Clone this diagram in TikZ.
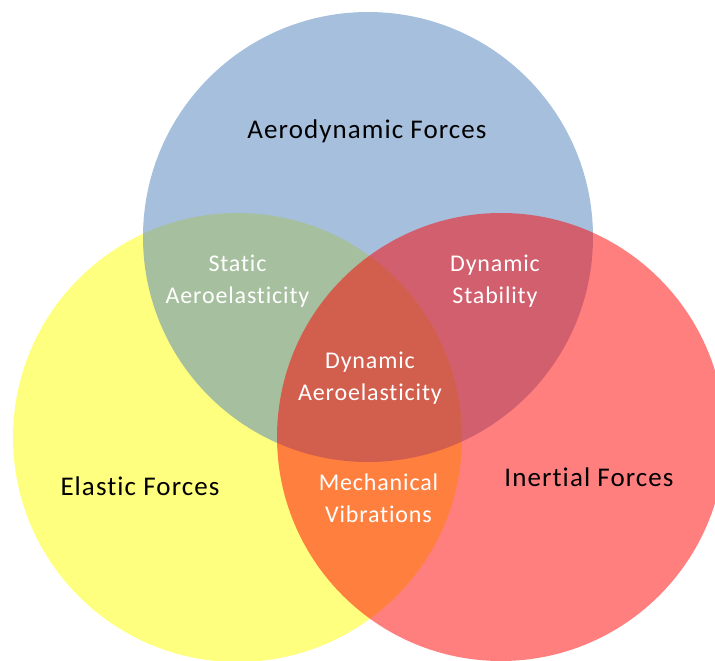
\documentclass[tikz,border=0pt]{standalone}
\usepackage{fontspec}
\setmainfont[Ligatures=NoCommon]{Carlito}
\newfontfamily\venfont[Ligatures=NoCommon, LetterSpace=4]{Carlito}
\newfontfamily\venfontsub[Ligatures=NoCommon, LetterSpace=3.5]{Carlito}
\definecolor{aeroblue}{HTML}{4F81BD}
\definecolor{elasyellow}{HTML}{FFFF00}
\definecolor{inertred}{HTML}{FF0000}
\tikzset{
  setcircle/.style={fill opacity=0.5, draw=none},
  mainlabel/.style={anchor=base, inner sep=0pt, text=black, font=\venfont\fontsize{27}{31}\selectfont},
  sublabel/.style={anchor=base, inner sep=0pt, text=white, font=\venfontsub\fontsize{24}{32}\selectfont},
}
\begin{document}
\begin{tikzpicture}[x=1pt, y=-1pt]
\useasboundingbox (0,0) rectangle (715,661);
\clip (0,0) rectangle (715,661);
\fill[white] (0,0) rectangle (715,661);
% circles
\fill[setcircle, elasyellow] (237.5,437.5) circle (224.5);
\fill[setcircle, aeroblue] (368,237) circle (225);
\fill[setcircle, inertred] (501,437) circle (224);
% main labels
\node[mainlabel] (aero) at (367,138) {Aerodynamic Forces};
\node[mainlabel] (elastic) at (140,495) {Elastic Forces};
\node[mainlabel] (inertial) at (589,486) {Inertial Forces};
% intersection labels
\node[sublabel] (static1) at (237.5,271) {Static};
\node[sublabel] (static2) at (237.5,303) {Aeroelasticity};
\node[sublabel] (dynstab1) at (495,271) {Dynamic};
\node[sublabel] (dynstab2) at (495,303) {Stability};
\node[sublabel] (dynaero1) at (370,368) {Dynamic};
\node[sublabel] (dynaero2) at (370,400) {Aeroelasticity};
\node[sublabel] (mech1) at (378.5,490) {Mechanical};
\node[sublabel] (mech2) at (378.5,522) {Vibrations};
\end{tikzpicture}
\end{document}
